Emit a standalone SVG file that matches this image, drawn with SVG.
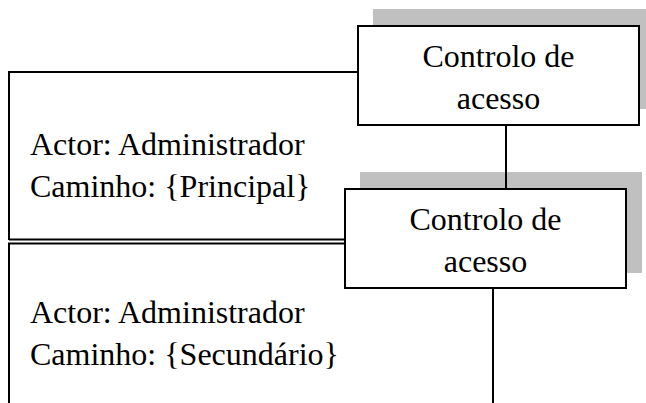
<svg xmlns="http://www.w3.org/2000/svg" width="646" height="403" viewBox="0 0 646 403">
  <style>
    .frame { fill: none; stroke: #000; stroke-width: 2; }
    .box { fill: #fff; stroke: #000; stroke-width: 2; }
    .shadow { fill: #c0c0c0; stroke: none; }
    .edge { fill: none; stroke: #000; stroke-width: 2; }
    text { font-family: "Liberation Serif", "Times New Roman", serif; font-size: 32px; fill: #000; }
    .c { text-anchor: middle; }
  </style>
  <rect width="646" height="403" fill="#fff"/>

  <!-- drop shadows sit beneath everything else -->
  <rect class="shadow" x="373" y="9" width="281" height="100"/>
  <rect class="shadow" x="360" y="172" width="282" height="101"/>

  <!-- scenario frames -->
  <g id="cenario-principal">
    <path class="frame" d="M358 72 H9 V240"/>
    <text x="30" y="155">Actor: Administrador</text>
    <text x="30" y="197">Caminho: {Principal}</text>
  </g>
  <g id="cenario-secundario">
    <path class="frame" d="M345 243.5 H9 V403"/>
    <path class="frame" d="M9 239.5 H345" stroke-width="1.5"/>
    <text x="30" y="323">Actor: Administrador</text>
    <text x="30" y="365">Caminho: {Secundário}</text>
  </g>

  <!-- connectors -->
  <g id="connectors">
    <line class="edge" x1="506" y1="125" x2="506" y2="189"/>
    <line class="edge" x1="493" y1="288" x2="493" y2="403"/>
  </g>

  <g id="controlo-acesso-1">
    <rect class="box" x="358" y="26" width="281" height="99"/>
    <text class="c" x="498.5" y="67">Controlo de</text>
    <text class="c" x="498.5" y="109">acesso</text>
  </g>
  <g id="controlo-acesso-2">
    <rect class="box" x="345" y="189" width="281" height="99"/>
    <text class="c" x="485.5" y="230">Controlo de</text>
    <text class="c" x="485.5" y="272">acesso</text>
  </g>
</svg>
